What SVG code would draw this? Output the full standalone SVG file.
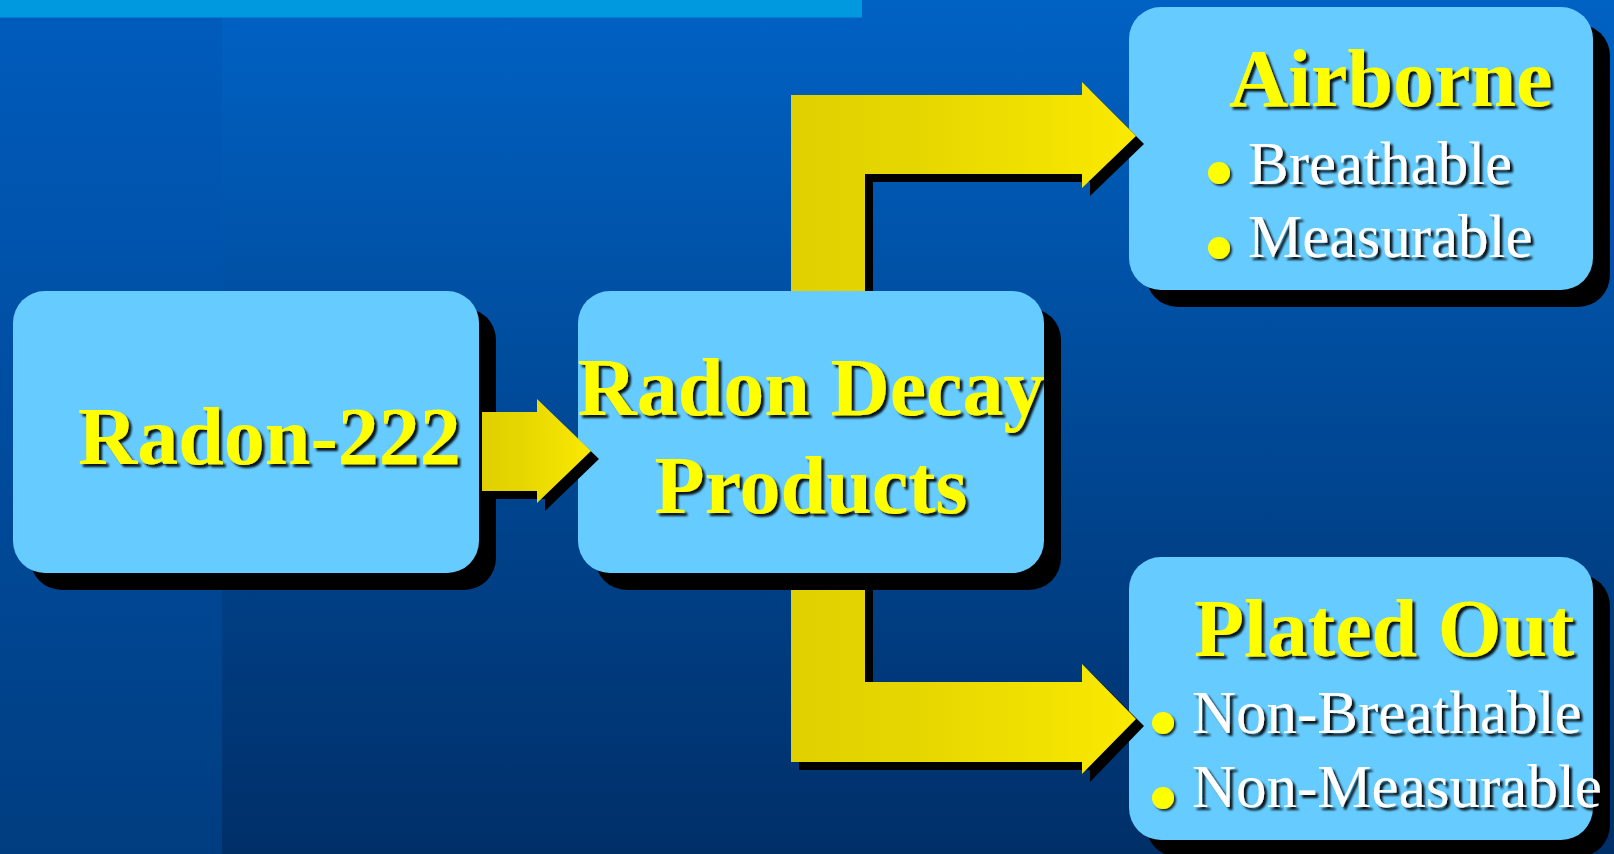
<svg xmlns="http://www.w3.org/2000/svg" width="1614" height="854" viewBox="0 0 1614 854">
  <defs>
    <linearGradient id="bgMain" x1="0" y1="0" x2="0" y2="1">
      <stop offset="0" stop-color="#0062c4"/>
      <stop offset="1" stop-color="#002f68"/>
    </linearGradient>
    <linearGradient id="bgLeft" x1="0" y1="0" x2="0" y2="1">
      <stop offset="0" stop-color="#005cbd"/>
      <stop offset="1" stop-color="#003d80"/>
    </linearGradient>
    <linearGradient id="arrowFill" x1="0" y1="0" x2="1" y2="0">
      <stop offset="0" stop-color="#e0d000"/>
      <stop offset="0.35" stop-color="#e6d600"/>
      <stop offset="1" stop-color="#fae900"/>
    </linearGradient>
    <filter id="txtShadow" x="-10%" y="-20%" width="130%" height="150%">
      <feDropShadow dx="3" dy="3" stdDeviation="1.3" flood-color="#000" flood-opacity="0.9"/>
    </filter>
    <filter id="dotShadow" x="-50%" y="-50%" width="200%" height="200%">
      <feDropShadow dx="2" dy="2" stdDeviation="1.2" flood-color="#000" flood-opacity="0.8"/>
    </filter>
  </defs>
  <style>
    .box { fill: #66ccff; }
    .shadow { fill: #000; }
    .title { font-family: "Liberation Serif", "Times New Roman", serif; font-weight: bold; font-size: 82px; fill: #ffff00; filter: url(#txtShadow); }
    .item { font-family: "Liberation Serif", "Times New Roman", serif; font-size: 61px; fill: #ffffff; filter: url(#txtShadow); }
    .dot { fill: #ffff00; filter: url(#dotShadow); }
    .arrow { fill: url(#arrowFill); }
    .mid { text-anchor: middle; }
  </style>

  <!-- background -->
  <rect x="0" y="0" width="1614" height="854" fill="url(#bgMain)"/>
  <rect x="0" y="0" width="222" height="854" fill="url(#bgLeft)"/>
  <rect x="0" y="0" width="862" height="17.5" fill="#0099e0"/>

  <!-- nodes -->
  <g id="node-radon222">
    <rect class="shadow" x="30" y="308" width="466" height="282" rx="32"/>
    <rect class="box" x="13" y="291" width="466" height="282" rx="32"/>
    <text class="title" x="78" y="464">Radon-222</text>
  </g>

  <g id="node-decay-products">
    <rect class="shadow" x="595" y="308" width="466" height="282" rx="32"/>
    <rect class="box" x="578" y="291" width="466" height="282" rx="32"/>
    <text class="title mid" x="811" y="415">Radon Decay</text>
    <text class="title mid" x="811" y="513">Products</text>
  </g>

  <g id="node-airborne">
    <rect class="shadow" x="1146" y="24" width="464" height="283" rx="32"/>
    <rect class="box" x="1129" y="7" width="464" height="283" rx="32"/>
    <text class="title" x="1229" y="106">Airborne</text>
    <circle class="dot" cx="1219" cy="173" r="11"/>
    <text class="item" x="1248" y="184">Breathable</text>
    <circle class="dot" cx="1219" cy="248" r="11"/>
    <text class="item" x="1248" y="257">Measurable</text>
  </g>

  <g id="node-plated-out">
    <rect class="shadow" x="1146" y="574" width="464" height="283" rx="32"/>
    <rect class="box" x="1129" y="557" width="464" height="283" rx="32"/>
    <text class="title" x="1194" y="656">Plated Out</text>
    <circle class="dot" cx="1163" cy="723" r="11"/>
    <text class="item" x="1192" y="733">Non-Breathable</text>
    <circle class="dot" cx="1163" cy="798" r="11"/>
    <text class="item" x="1192" y="807">Non-Measurable</text>
  </g>

  <!-- connectors: block arrows with hard drop shadows -->
  <g id="connectors">
    <g id="arrow-radon-to-decay">
      <path class="shadow" d="M490,420 H545 V407 L599,459 L545,511 V499 H490 Z"/>
      <path class="arrow" d="M482,412 H537 V399 L591,451 L537,503 V491 H482 Z"/>
    </g>
    <g id="arrow-decay-to-airborne">
      <path class="shadow" d="M799,291 V103 H1090 V90 L1144,144 L1090,196 V182 H873 V291 Z"/>
      <path class="arrow" d="M791,291 V95 H1082 V82 L1136,136 L1082,188 V174 H865 V291 Z"/>
    </g>
    <g id="arrow-decay-to-plated">
      <path class="shadow" d="M799,590 V770 H1090 V782 L1144,726 L1090,672 V690 H873 V590 Z"/>
      <path class="arrow" d="M791,590 V762 H1082 V774 L1136,719 L1082,664 V682 H865 V590 Z"/>
    </g>
  </g>
</svg>
